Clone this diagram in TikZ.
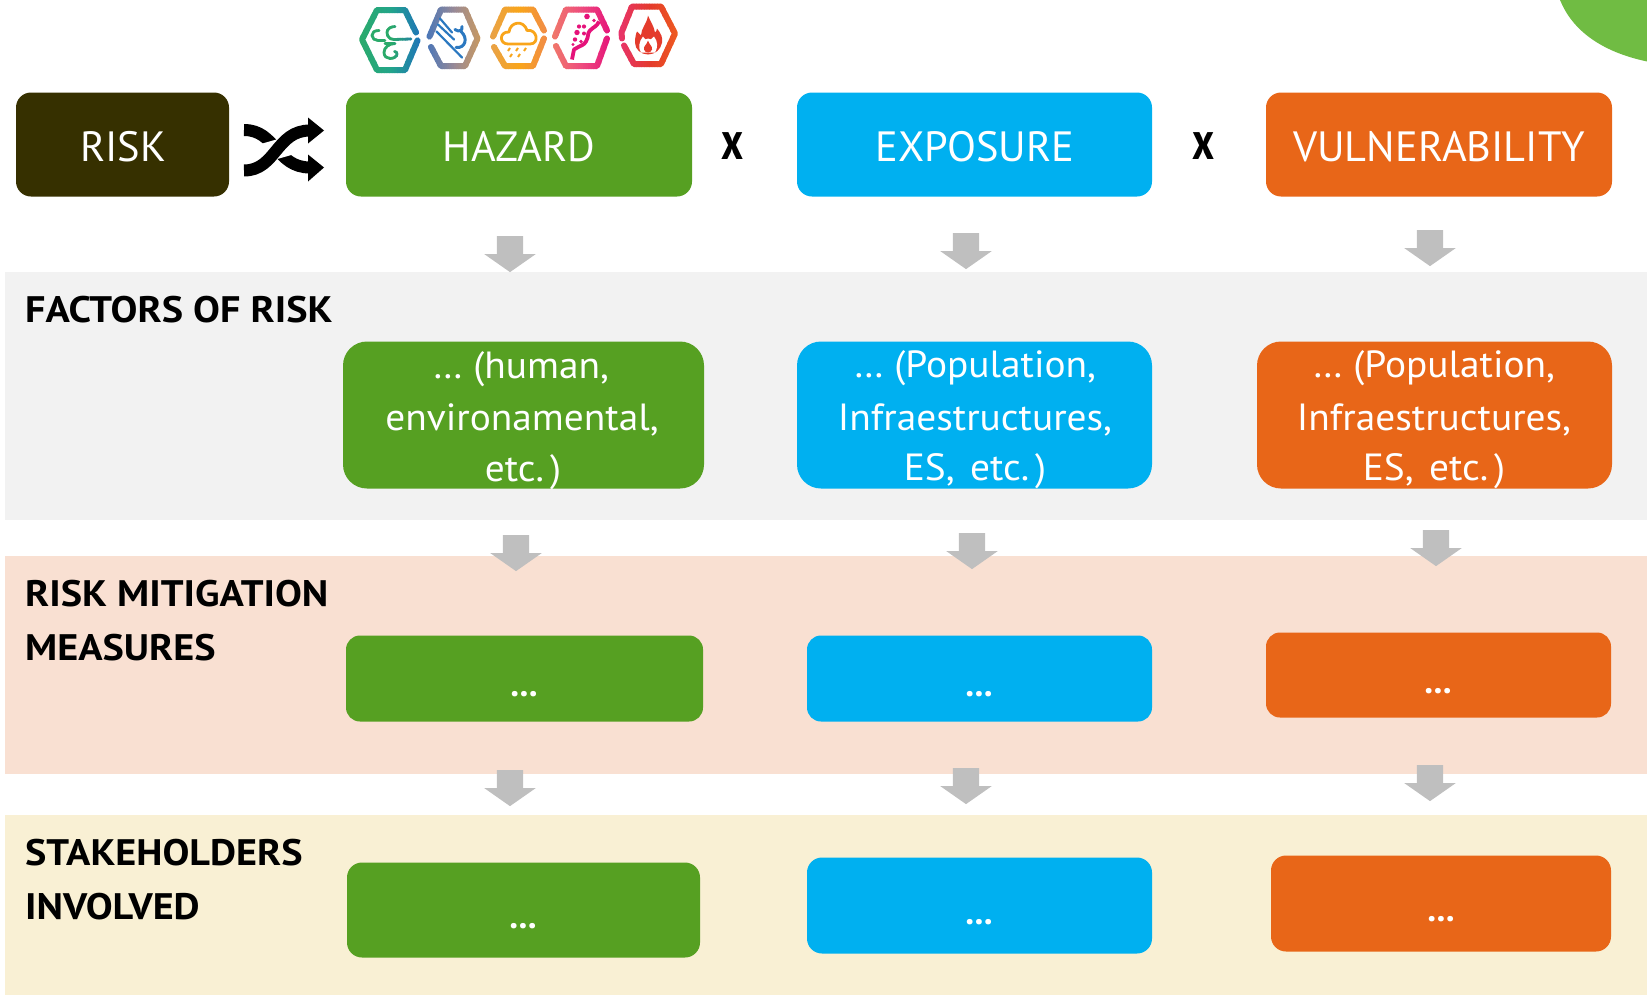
\documentclass[tikz,border=0pt]{standalone}
\usepackage{fontspec}
\setmainfont{PT Sans}
\newfontfamily\labelfont{PT Sans}[FakeStretch=1.09]
\newfontfamily\boxfont{PT Sans}[FakeStretch=1.04]
\newfontfamily\timesfont{PT Sans}[FakeStretch=0.78]
\usetikzlibrary{shapes.arrows}
\definecolor{cgreen}{HTML}{56A022}
\definecolor{cblue}{HTML}{00B0F0}
\definecolor{corange}{HTML}{E86618}
\definecolor{cdark}{HTML}{363000}
\definecolor{cgray}{HTML}{BFBFBF}
\definecolor{bandA}{HTML}{F2F2F2}
\definecolor{bandB}{HTML}{F9E0D2}
\definecolor{bandC}{HTML}{F9F0D4}
\definecolor{blob}{HTML}{70BC43}
\definecolor{iaL}{HTML}{2BAA6A}\definecolor{iaM}{HTML}{22A58A}\definecolor{iaR}{HTML}{1F72BA}
\definecolor{ibL}{HTML}{4A76B8}\definecolor{ibM}{HTML}{9A8A96}\definecolor{ibR}{HTML}{CC9A5C}
\definecolor{icL}{HTML}{E8A24A}\definecolor{icM}{HTML}{F9A51A}\definecolor{icR}{HTML}{F08A4B}
\definecolor{idL}{HTML}{F07A6A}\definecolor{idM}{HTML}{EE4B7E}\definecolor{idR}{HTML}{E5127A}
\definecolor{ieL}{HTML}{E8336B}\definecolor{ieM}{HTML}{E43B2C}\definecolor{ieR}{HTML}{F0601E}
\definecolor{stormblue}{HTML}{2B78C0}
\tikzset{
  boxtext/.style={text=white,font=\boxfont\fontsize{38}{38}\selectfont,anchor=base,inner sep=0pt},
  headtext/.style={text=white,font=\fontsize{42.5}{42.5}\selectfont,anchor=base,inner sep=0pt},
  dotstext/.style={text=white,font=\fontsize{36}{36}\selectfont\bfseries,anchor=base,inner sep=0pt},
  rowlabel/.style={text=black,font=\labelfont\fontsize{37}{37}\selectfont\bfseries,anchor=base west,inner sep=0pt},
  timesmark/.style={text=black,font=\timesfont\fontsize{54}{54}\selectfont\bfseries,anchor=base,inner sep=0pt},
  downarrow/.style={shape=single arrow,fill=cgray,draw=none,inner sep=0pt,outer sep=0pt,
    minimum width=51bp,minimum height=36bp,single arrow head extend=12.5bp,
    single arrow tip angle=110,shape border rotate=270},
  hexline/.style={line width=6bp,line cap=round,line join=round},
  glyphline/.style={line width=2.8bp,line cap=round,line join=round},
}
\newcommand{\boxnode}[7]{% name, colour, x0,y0,x1,y1, radius
  \fill[#2,rounded corners=#7bp] (#3,#4) rectangle (#5,#6);
  \coordinate (#1) at ({(#3+#5)/2},{(#4+#6)/2});
}
\newcommand{\downarr}[3]{\node[downarrow] (#1) at (#2,#3) {\rule{26bp}{0pt}};}
\newcommand{\gradstrips}[7]{% x0,x1,L,M,R,style,paths
  \foreach \ii in {0,...,23}{
    \pgfmathsetmacro{\xa}{#1+(#2-#1)*\ii/24-0.25}
    \pgfmathsetmacro{\xb}{#1+(#2-#1)*(\ii+1)/24+0.25}
    \pgfmathtruncatemacro{\pp}{\ii<12?100*\ii/12:100*(\ii-12)/12}
    \ifnum\ii<12\relax\colorlet{stripcol}{#4!\pp!#3}\else\colorlet{stripcol}{#5!\pp!#4}\fi
    \begin{scope}
      \clip (\xa,1) rectangle (\xb,90);
      \draw[#6,color=stripcol] #7;
    \end{scope}
  }
}
\begin{document}
\begin{tikzpicture}[x=1bp,y=-1bp]
\useasboundingbox (0,0.5) rectangle (1647,995.5);
% corner blob
\fill[blob] (1560,0.5) .. controls (1572,30) and (1600,52) .. (1647,62) -- (1647,0.5) -- cycle;
% bands
\fill[bandA] (5,272) rectangle (1647,520);
\fill[bandB] (5,556) rectangle (1647,774);
\fill[bandC] (5,815) rectangle (1647,995.5);
% top row
\boxnode{risk}{cdark}{16}{93}{229}{197}{15}
\boxnode{haz}{cgreen}{346}{93}{692}{197}{15}
\boxnode{exp}{cblue}{797}{93}{1152}{197}{15}
\boxnode{vul}{corange}{1266}{93}{1612}{197}{15}
\node[headtext] (trisk) at (123,162) {RISK};
\node[headtext] (thaz) at (519,162) {HAZARD};
\node[headtext] (texp) at (975,162) {EXPOSURE};
\node[headtext] (tvul) at (1439,162) {VULNERABILITY};
\node[timesmark] (x1) at (733,160) {x};
\node[timesmark] (x2) at (1203,160) {x};
% shuffle
\draw[line width=12bp] (244,130.5) .. controls (276,130.5) and (276,168) .. (310,168);
\draw[white,line width=19bp] (262,154) -- (290,146);
\draw[line width=12bp] (244,171) .. controls (276,171) and (276,131) .. (310,131);
\fill (308,118) -- (324,131) -- (308,144) -- cycle;
\fill (308,155) -- (324,168) -- (308,182) -- cycle;
% row 2
\boxnode{h2}{cgreen}{343}{342}{704}{489}{24}
\boxnode{e2}{cblue}{797}{342}{1152}{489}{24}
\boxnode{v2}{corange}{1257}{342}{1612}{489}{24}
\node[boxtext] (h2a) at (521,379) {… (human,};
\node[boxtext] (h2b) at (522,431) {environamental,};
\node[boxtext] (h2c) at (523,482) {etc.\kern6bp)};
\node[boxtext] (e2a) at (975,378) {… (Population,};
\node[boxtext] (e2b) at (975,431) {Infraestructures,};
\node[boxtext] (e2c) at (975,481) {ES,\kern5bp\ etc.\kern6bp)};
\node[boxtext] (v2a) at (1434,378) {… (Population,};
\node[boxtext] (v2b) at (1434,431) {Infraestructures,};
\node[boxtext] (v2c) at (1434,481) {ES,\kern5bp\ etc.\kern6bp)};
% row 3
\boxnode{h3}{cgreen}{346}{636}{703}{722}{14}
\boxnode{e3}{cblue}{807}{636}{1152}{722}{14}
\boxnode{v3}{corange}{1266}{633}{1611}{718}{14}
\node[dotstext] (h3t) at (524,697) {...};
\node[dotstext] (e3t) at (979,697) {...};
\node[dotstext] (v3t) at (1438,694) {...};
% row 4
\boxnode{h4}{cgreen}{347}{863}{700}{958}{15}
\boxnode{e4}{cblue}{807}{858}{1152}{954}{15}
\boxnode{v4}{corange}{1271}{856}{1611}{952}{15}
\node[dotstext] (h4t) at (523,929) {...};
\node[dotstext] (e4t) at (979,925) {...};
\node[dotstext] (v4t) at (1441,922) {...};
% row labels
\node[rowlabel] (l1) at (25,323) {FACTORS OF RISK};
\node[rowlabel] (l2a) at (25,607) {RISK MITIGATION};
\node[rowlabel] (l2b) at (25,661) {MEASURES};
\node[rowlabel] (l3a) at (25,866) {STAKEHOLDERS};
\node[rowlabel] (l3b) at (25,920) {INVOLVED};
% arrows
\downarr{a11}{510}{250}
\downarr{a12}{966}{247}
\downarr{a13}{1430}{244}
\downarr{a21}{516}{549}
\downarr{a22}{972}{547}
\downarr{a23}{1436}{544}
\downarr{a31}{510}{784}
\downarr{a32}{966}{782}
\downarr{a33}{1430}{779}
% icon 1: wind
\gradstrips{358}{421}{iaL}{iaM}{iaR}{hexline}{(416,33) -- (405,10.5) -- (377,10.5) -- (362,40) -- (377,70.5) -- (405,70.5) -- (417.5,41)}
\gradstrips{358}{421}{iaL}{iaL}{iaR}{glyphline}{(379,31) .. controls (374,31) and (372,33) .. (372,36) .. controls (372,39) and (375,41) .. (378,41) -- (385,41)
  (395,27) .. controls (390,27) and (387,30) .. (387,33) .. controls (387,37) and (390,40) .. (394,40) -- (411,39.5)
  (385,44) -- (395,44) .. controls (389,44) and (384,48) .. (384,53) .. controls (384,57) and (387,59) .. (390,59) .. controls (394,59) and (397,57) .. (397,54.5) .. controls (397,53) and (396,52) .. (394.5,52)}
% icon 2: storm
\gradstrips{426}{482}{ibL}{ibM}{ibR}{hexline}{(431,47.5) -- (441,66.5) -- (465,66.5) -- (477.5,39) -- (465,10) -- (441,10) -- (429.5,37)}
\draw[glyphline,color=stormblue,line width=2.2bp] (440,19) -- (452,33) (438,25) -- (454,40) (436.5,32) -- (462,58);
\draw[glyphline,color=stormblue,line width=3bp] (455,30) .. controls (459,33) and (463,31) .. (462,27) (461,32) .. controls (468,38) and (466,49) .. (456,48);
% icon 3: rain
\gradstrips{489}{548}{icL}{icM}{icR}{hexline}{(494,47.5) -- (505,66.5) -- (533,66.5) -- (544,39) (544,31) -- (533,10) -- (505,10) -- (493,37)}
\draw[glyphline,color=icM] (508,44.5) .. controls (499,44.5) and (499,32) .. (509,32.5) .. controls (510,22) and (524,20) .. (527,31) .. controls (537,29) and (540,44.5) .. (530,44.5) -- cycle;
\foreach \rx/\ry in {509/50,517/50,525/50,511/56,519/56}
  \draw[color=icM,line width=2bp] (\rx+1,\ry-1.5) -- (\rx-1,\ry+1.5);
% icon 4: lava
\gradstrips{551}{611}{idL}{idM}{idR}{hexline}{(556,46.5) -- (566,66.5) -- (597,66.5) -- (607,39) (607,31) -- (597,10) -- (566,10) -- (555,37)}
\draw[line width=3.8bp,line join=round,color=idR] (572,60) -- (574,50) .. controls (580,46) and (584,46) .. (586,42) .. controls (589,37) and (587,34) .. (590,31) .. controls (594,27) and (597,27) .. (599,22);
\foreach \dx/\dy/\dr in {587/17/2.8,579/27/2.1,584/27/2.1,594/21/1.9,577/33/2.7,584/34/2,575/40/2.2,581/42/1.8,573/45/1.7}
  \fill[idR] (\dx,\dy) circle[radius=\dr];
% icon 5: fire
\gradstrips{618}{681}{ieL}{ieM}{ieR}{hexline}{(624,46) -- (634,64.5) -- (661,64.5) -- (675,34) -- (661,7) -- (632,7) -- (621.5,33) -- (622,39)}
\fill[ieM] (648,16) .. controls (651,23) and (654,27) .. (655,33) .. controls (656,32) and (657,31) .. (657,29) .. controls (661,34) and (663,38) .. (662,43) .. controls (661,50) and (655,55) .. (648,55) .. controls (641,55) and (635,50) .. (635,43) .. controls (635,38) and (636,34) .. (637,32) .. controls (638,33) and (639,34) .. (641,36) .. controls (641,29) and (647,24) .. (648,16) -- cycle;
\fill[white] (641,53) .. controls (638,48) and (639,42) .. (643,37) .. controls (645,40) and (646,41) .. (648,39) .. controls (650,41) and (651,40) .. (654,37) .. controls (658,42) and (658,48) .. (655,53) -- cycle;
\fill[ieM] (648,41) .. controls (649,45) and (653,47) .. (652,50) .. controls (651,54) and (645,54) .. (644,50) .. controls (643,47) and (647,45) .. (648,41) -- cycle;
\end{tikzpicture}
\end{document}
